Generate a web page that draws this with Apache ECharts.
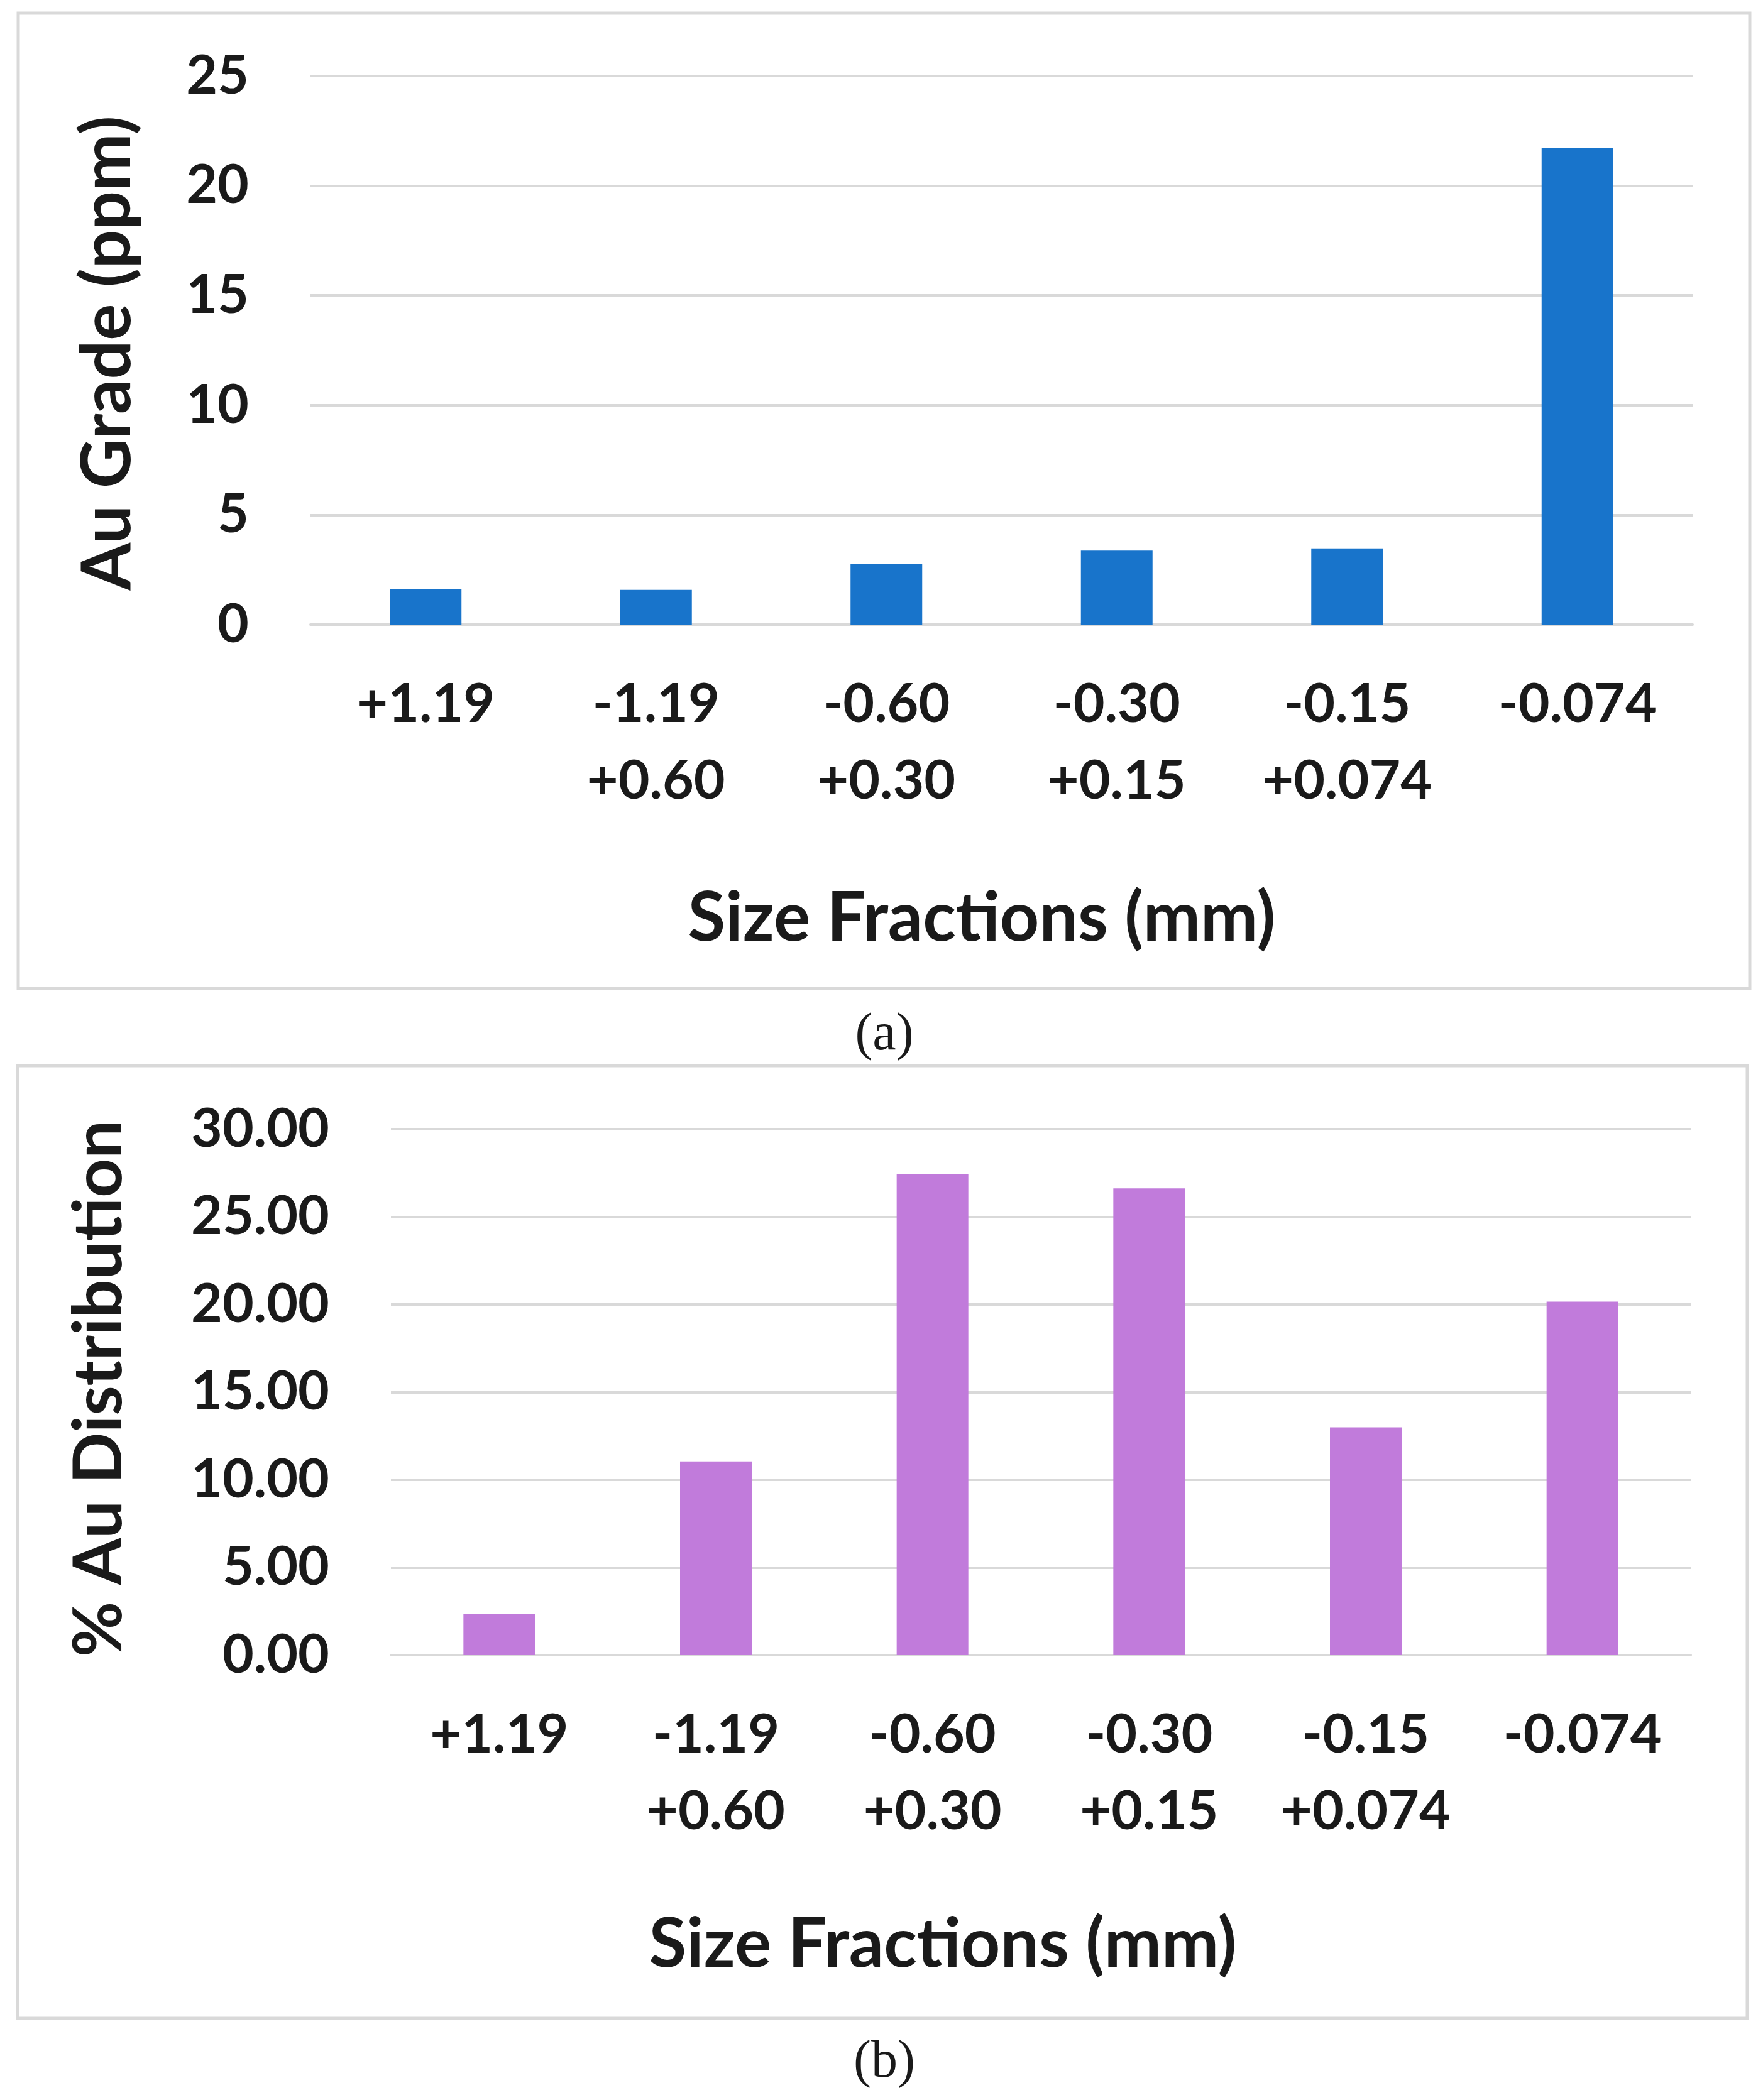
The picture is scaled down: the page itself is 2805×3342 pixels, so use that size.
<!DOCTYPE html>
<html>
<head>
<meta charset="utf-8">
<script src="https://cdn.jsdelivr.net/npm/echarts@6/dist/echarts.min.js"></script>
<style>
html,body{margin:0;padding:0;background:#fff;}
#chart{width:2805px;height:3342px;}
</style>
</head>
<body>
<div id="chart"></div>
<script>
// ---- data ----
var categories = ['+1.19', '-1.19\n+0.60', '-0.60\n+0.30', '-0.30\n+0.15', '-0.15\n+0.074', '-0.074'];
var auGrade = [1.62, 1.58, 2.78, 3.37, 3.47, 21.72];
var auDistribution = [2.35, 11.05, 27.45, 26.62, 12.99, 20.16];
var gradeTicks = { min: 0, max: 25, interval: 5 };
var distTicks = { min: 0, max: 30, interval: 5 };
var titleA = { y: 'Au Grade (ppm)', x: 'Size Fractions (mm)', caption: '(a)' };
var titleB = { y: '% Au Distribution', x: 'Size Fractions (mm)', caption: '(b)' };

// ---- styles ----
var FONT = 'Lato';
var TXT = '#1a1a1a';
var GRIDC = '#d9d9d9';

var chart = echarts.init(document.getElementById('chart'), null, { renderer: 'canvas' });

function xAxisCfg(gridIndex) {
  return {
    type: 'category', gridIndex: gridIndex, data: categories,
    axisLine: { show: true, lineStyle: { color: GRIDC, width: 4 } },
    axisTick: { show: false },
    axisLabel: {
      interval: 0, margin: 66, color: TXT, fontFamily: FONT, fontWeight: 'bold',
      fontSize: 86, lineHeight: 122
    }
  };
}
function yAxisCfg(gridIndex, t, dec) {
  return {
    type: 'value', gridIndex: gridIndex, min: t.min, max: t.max, interval: t.interval,
    axisLine: { show: false }, axisTick: { show: false },
    splitLine: { show: true, lineStyle: { color: GRIDC, width: 4 } },
    axisLabel: {
      margin: 98, color: TXT, fontFamily: FONT, fontWeight: 'bold', fontSize: 86,
      formatter: function (v) { return v.toFixed(dec); }
    }
  };
}
function textG(x, y, text, size, rot, family, weight) {
  return {
    type: 'text', x: x, y: y, rotation: rot || 0, silent: true,
    style: {
      text: text, fill: TXT, font: (weight || 'bold') + ' ' + size + 'px ' + (family || FONT),
      textAlign: 'center', textVerticalAlign: 'middle'
    }
  };
}

var option = {
  backgroundColor: '#ffffff',
  animation: false,
  grid: [
    { left: 494, top: 121, width: 2199, height: 873, containLabel: false },
    { left: 622, top: 1797, width: 2068, height: 837, containLabel: false }
  ],
  xAxis: [xAxisCfg(0), xAxisCfg(1)],
  yAxis: [yAxisCfg(0, gradeTicks, 0), yAxisCfg(1, distTicks, 2)],
  series: [
    { type: 'bar', xAxisIndex: 0, yAxisIndex: 0, data: auGrade, barWidth: 114,
      itemStyle: { color: '#1874CB' } },
    { type: 'bar', xAxisIndex: 1, yAxisIndex: 1, data: auDistribution, barWidth: 114,
      itemStyle: { color: '#C17BDB' } }
  ],
  graphic: [
    { type: 'rect', silent: true, shape: { x: 29, y: 21, width: 2755, height: 1552 },
      style: { fill: 'none', stroke: GRIDC, lineWidth: 5 } },
    { type: 'rect', silent: true, shape: { x: 28, y: 1696, width: 2752, height: 1516 },
      style: { fill: 'none', stroke: GRIDC, lineWidth: 5 } },
    textG(172, 562, titleA.y, 109, Math.PI / 2),
    textG(1562, 1462, titleA.x, 109, 0),
    textG(1407, 1648, titleA.caption, 84, 0, '"Liberation Serif"', 'normal'),
    textG(158, 2210, titleB.y, 108, Math.PI / 2),
    textG(1500, 3095, titleB.x, 109, 0),
    textG(1407, 3283, titleB.caption, 84, 0, '"Liberation Serif"', 'normal')
  ]
};
chart.setOption(option);
</script>
</body>
</html>
